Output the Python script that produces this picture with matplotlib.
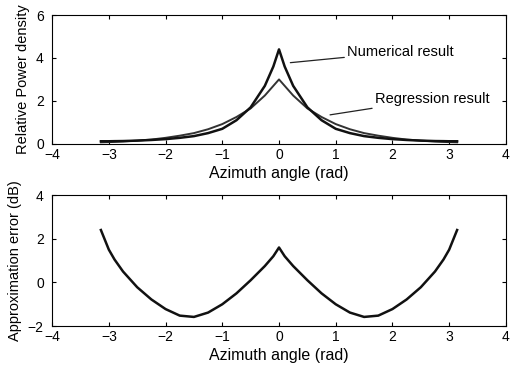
import matplotlib
matplotlib.use('Agg')
import matplotlib.pyplot as plt

plt.rcParams['font.family'] = ['Liberation Sans', 'DejaVu Sans']

# azimuth angle grid (right half, mirrored to the left)
x_half = [0.0, 0.05, 0.1, 0.25, 0.5, 0.75, 1.0, 1.25, 1.5, 1.75, 2.0, 2.25, 2.5, 2.75, 2.9, 3.0, 3.14]
num_half = [4.4, 4.0, 3.6, 2.7, 1.7, 1.1, 0.7, 0.5, 0.36, 0.28, 0.22, 0.18, 0.15, 0.13, 0.125, 0.12, 0.12]
reg_half = [3.0, 2.85, 2.7, 2.25, 1.65, 1.25, 0.92, 0.68, 0.5, 0.38, 0.28, 0.2, 0.15, 0.11, 0.09, 0.08, 0.07]
err_half = [1.6, 1.4, 1.2, 0.75, 0.1, -0.5, -1.0, -1.38, -1.58, -1.52, -1.22, -0.78, -0.22, 0.5, 1.05, 1.5, 2.4]

x = [-v for v in x_half[:0:-1]] + x_half
numerical = num_half[:0:-1] + num_half
regression = reg_half[:0:-1] + reg_half
error_db = err_half[:0:-1] + err_half

fig = plt.figure(figsize=(5.11, 3.66), dpi=100)
ax1 = fig.add_axes([0.102, 0.607, 0.888, 0.352])
ax2 = fig.add_axes([0.102, 0.109, 0.888, 0.358])

ax1.plot(x, regression, color='#333333', lw=1.4)
ax1.plot(x, numerical, color='#111111', lw=1.8)
ax1.set_xlim(-4, 4)
ax1.set_ylim(0, 6)
ax1.set_yticks([0, 2, 4, 6])
ax1.set_ylabel('Relative Power density', fontsize=10.5, labelpad=4)
ax1.set_xlabel('Azimuth angle (rad)', fontsize=11.5, labelpad=3)
ax1.annotate('Numerical result', xy=(0.2, 3.78), xytext=(1.2, 4.28),
             fontsize=10.5, va='center',
             arrowprops=dict(arrowstyle='-', color='#222222', lw=0.9, shrinkA=0, shrinkB=0))
ax1.annotate('Regression result', xy=(0.9, 1.35), xytext=(1.69, 2.09),
             fontsize=10.5, va='center',
             arrowprops=dict(arrowstyle='-', color='#222222', lw=0.9, shrinkA=0, shrinkB=0))

ax2.plot(x, error_db, color='#111111', lw=1.8)
ax2.set_xlim(-4, 4)
ax2.set_ylim(-2, 4)
ax2.set_yticks([-2, 0, 2, 4])
ax2.set_ylabel('Approximation error (dB)', fontsize=10.5, labelpad=4)
ax2.set_xlabel('Azimuth angle (rad)', fontsize=11.5, labelpad=3)

for ax in (ax1, ax2):
    ax.tick_params(direction='in', top=True, right=True, labelsize=10, length=3)
    ax.tick_params(axis='x', pad=3)
    ax.tick_params(axis='y', pad=6)
    ax.set_xticks(range(-4, 5))
    for s in ax.spines.values():
        s.set_linewidth(0.8)

fig.savefig('out.png', dpi=100)
